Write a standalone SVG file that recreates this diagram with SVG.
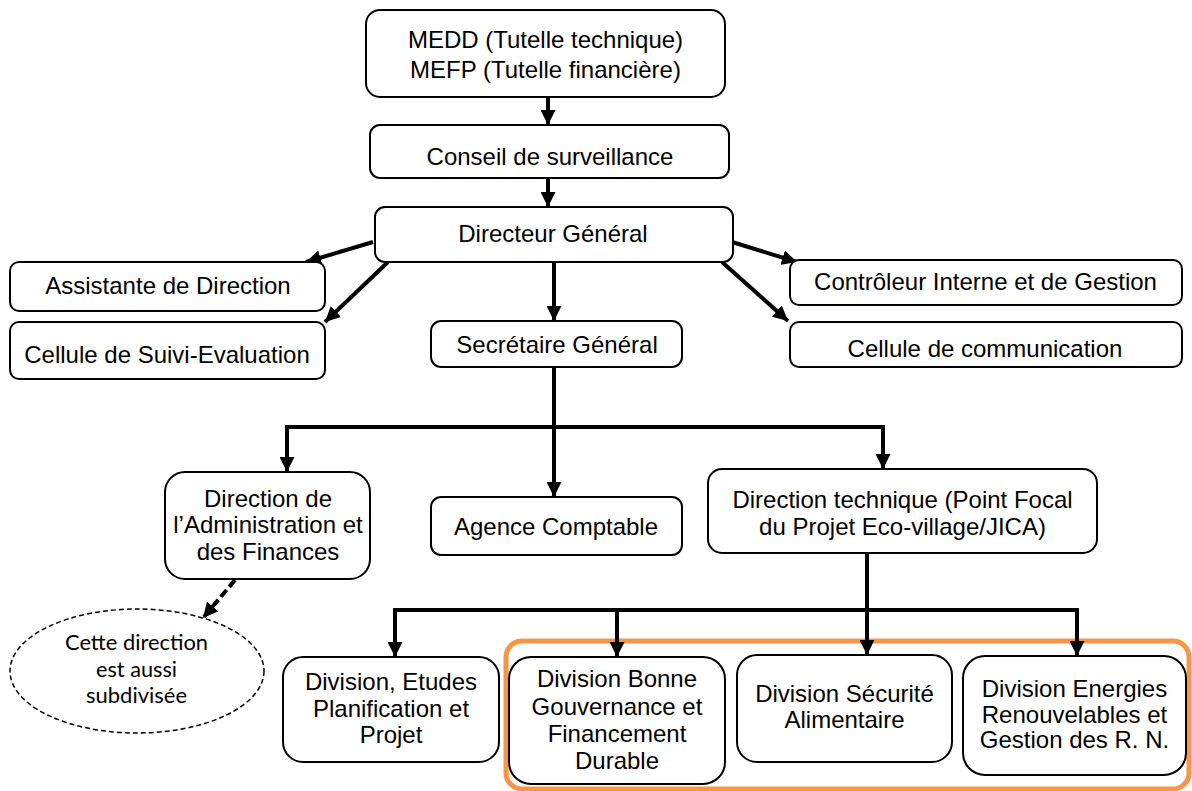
<svg xmlns="http://www.w3.org/2000/svg" width="1192" height="791" viewBox="0 0 1192 791">
<style>
.box{fill:#fff;stroke:#000;stroke-width:2}
.t{font-family:"Liberation Sans",Arial,sans-serif;font-size:24px;fill:#000;text-anchor:middle}
.c{fill:none;stroke:#000;stroke-width:4;stroke-linejoin:miter}
.e{font-family:Lato,"Open Sans",sans-serif;font-size:22px;fill:#000;text-anchor:middle}
</style>
<defs>
<marker id="ah" viewBox="0 0 10 10" refX="10" refY="5" markerWidth="15" markerHeight="15" markerUnits="userSpaceOnUse" orient="auto">
<path d="M0,0 L10,5 L0,10 z" fill="#000"/>
</marker>
</defs>
<rect width="1192" height="791" fill="#fff"/>
<g id="highlight">
<rect x="506" y="641" width="683" height="148" rx="16" fill="none" stroke="#F79646" stroke-width="5"/>
</g>
<g id="connectors">
<path class="c" d="M548,97 V125" marker-end="url(#ah)"/>
<path class="c" d="M548,178 V207" marker-end="url(#ah)"/>
<path class="c" d="M373,242 L306,262" marker-end="url(#ah)"/>
<path class="c" d="M388,262 L325,322" marker-end="url(#ah)"/>
<path class="c" d="M732,242 L797,262" marker-end="url(#ah)"/>
<path class="c" d="M722,262 L788,321" marker-end="url(#ah)"/>
<path class="c" d="M554,262 V321" marker-end="url(#ah)"/>
<path class="c" d="M554,367 V497" marker-end="url(#ah)"/>
<path class="c" d="M554,427 H287 V472" marker-end="url(#ah)"/>
<path class="c" d="M554,427 H883 V469" marker-end="url(#ah)"/>
<path class="c" d="M235,580 L203,618" stroke-dasharray="9,4" marker-end="url(#ah)"/>
<path class="c" d="M867,553 V655" marker-end="url(#ah)"/>
<path class="c" d="M867,610 H395 V657" marker-end="url(#ah)"/>
<path class="c" d="M867,610 H1077 V656" marker-end="url(#ah)"/>
<path class="c" d="M617,610 V657" marker-end="url(#ah)"/>
</g>
<g id="medd">
<rect class="box" x="366" y="10" width="359" height="87" rx="14"/>
<text class="t" x="545.5" y="48">MEDD (Tutelle technique)</text>
<text class="t" x="545.5" y="78">MEFP (Tutelle financière)</text>
</g>
<g id="conseil">
<rect class="box" x="370" y="125" width="359" height="53" rx="10"/>
<text class="t" x="550" y="165">Conseil de surveillance</text>
</g>
<g id="dg">
<rect class="box" x="375" y="207" width="358" height="55" rx="10"/>
<text class="t" x="553" y="242">Directeur Général</text>
</g>
<g id="assistante">
<rect class="box" x="10" y="262" width="315" height="49" rx="9"/>
<text class="t" x="168" y="294">Assistante de Direction</text>
</g>
<g id="suivi">
<rect class="box" x="10" y="322" width="315" height="57" rx="9"/>
<text class="t" x="167" y="363">Cellule de Suivi-Evaluation</text>
</g>
<g id="controleur">
<rect class="box" x="790" y="260" width="392" height="45" rx="9"/>
<text class="t" x="985.5" y="290">Contrôleur Interne et de Gestion</text>
</g>
<g id="communication">
<rect class="box" x="790" y="322" width="392" height="45" rx="9"/>
<text class="t" x="985" y="357">Cellule de communication</text>
</g>
<g id="sg">
<rect class="box" x="431" y="321" width="251" height="46" rx="10"/>
<text class="t" x="557" y="353">Secrétaire Général</text>
</g>
<g id="agence">
<rect class="box" x="431" y="497" width="251" height="58" rx="10"/>
<text class="t" x="556" y="535">Agence Comptable</text>
</g>
<g id="daf">
<rect class="box" x="165" y="472" width="205" height="107" rx="20"/>
<text class="t" x="268" y="507">Direction de</text>
<text class="t" x="268" y="533">l’Administration et</text>
<text class="t" x="268" y="560">des Finances</text>
</g>
<g id="dt">
<rect class="box" x="708" y="469" width="389" height="84" rx="14"/>
<text class="t" x="902.5" y="508">Direction technique (Point Focal</text>
<text class="t" x="902.5" y="535">du Projet Eco-village/JICA)</text>
</g>
<g id="note">
<ellipse cx="137" cy="671" rx="127" ry="62" fill="#fff" stroke="#000" stroke-width="1.5" stroke-dasharray="5,3"/>
<text class="e" x="136.5" y="650" textLength="143" lengthAdjust="spacingAndGlyphs">Cette direction</text>
<text class="e" x="136.5" y="677" textLength="81" lengthAdjust="spacingAndGlyphs">est aussi</text>
<text class="e" x="136.5" y="703" textLength="101" lengthAdjust="spacingAndGlyphs">subdivisée</text>
</g>
<g id="etudes">
<rect class="box" x="283" y="657" width="216" height="105" rx="20"/>
<text class="t" x="391" y="690">Division, Etudes</text>
<text class="t" x="391" y="717">Planification et</text>
<text class="t" x="391" y="743">Projet</text>
</g>
<g id="gouvernance">
<rect class="box" x="509" y="657" width="216" height="127" rx="22"/>
<text class="t" x="617" y="687">Division Bonne</text>
<text class="t" x="617" y="714.5">Gouvernance et</text>
<text class="t" x="617" y="742">Financement</text>
<text class="t" x="617" y="769">Durable</text>
</g>
<g id="securite">
<rect class="box" x="737" y="655" width="215" height="107" rx="20"/>
<text class="t" x="844.5" y="702">Division Sécurité</text>
<text class="t" x="844.5" y="728">Alimentaire</text>
</g>
<g id="energies">
<rect class="box" x="963" y="656" width="223" height="119" rx="22"/>
<text class="t" x="1074.5" y="697">Division Energies</text>
<text class="t" x="1074.5" y="723">Renouvelables et</text>
<text class="t" x="1074.5" y="748">Gestion des R. N.</text>
</g>
</svg>
